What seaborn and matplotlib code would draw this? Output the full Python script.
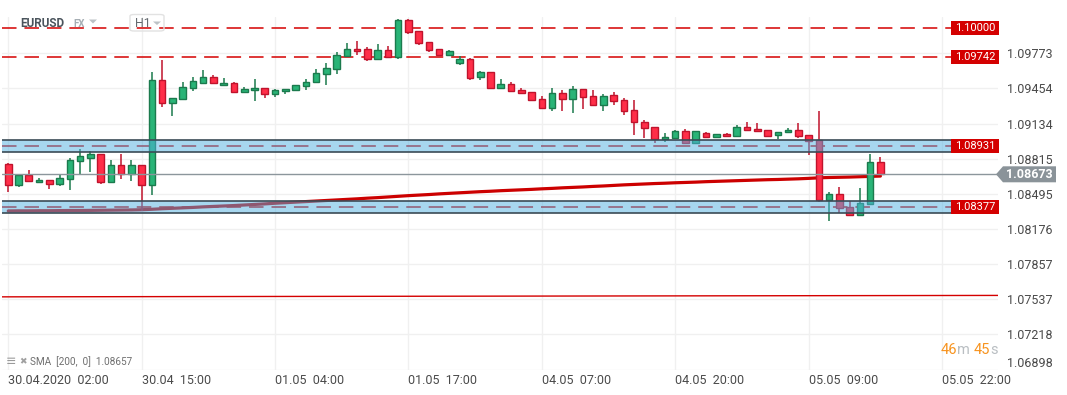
import numpy as np
import pandas as pd
import seaborn as sns
import matplotlib
matplotlib.use("Agg")
import matplotlib.pyplot as plt
from matplotlib.patches import Rectangle, Polygon, FancyBboxPatch
import matplotlib.transforms as mtransforms

# ---------------- data ----------------
opens = [1.08769, 1.08579, 1.08670, 1.08606, 1.08624, 1.08588, 1.08633, 1.08793, 1.08820, 1.08860,
         1.08602, 1.08754, 1.08675, 1.08760, 1.08579, 1.09532, 1.09323, 1.09356, 1.09459, 1.09504,
         1.09559, 1.09486, 1.09504, 1.09423, 1.09441, 1.09459, 1.09405, 1.09432, 1.09441, 1.09477,
         1.09513, 1.09586, 1.09631, 1.09749, 1.09813, 1.09813, 1.09722, 1.09804, 1.09740, 1.10076,
         1.09976, 1.09876, 1.09813, 1.09758, 1.09686, 1.09722, 1.09559, 1.09604, 1.09459, 1.09495,
         1.09441, 1.09423, 1.09359, 1.09278, 1.09414, 1.09359, 1.09450, 1.09386, 1.09305, 1.09396,
         1.09350, 1.09259, 1.09150, 1.09105, 1.08996, 1.09005, 1.09069, 1.08960, 1.09051, 1.09014,
         1.09042, 1.09024, 1.09105, 1.09087, 1.09078, 1.09033, 1.09060, 1.09078, 1.09033, 1.08987,
         1.08443, 1.08497, 1.08379, 1.08307, 1.08407, 1.08788]
highs = [1.08772, 1.08670, 1.08709, 1.08636, 1.08624, 1.08679, 1.08824, 1.08906, 1.08881, 1.08860,
         1.08806, 1.08854, 1.08799, 1.08760, 1.09607, 1.09713, 1.09368, 1.09516, 1.09562, 1.09625,
         1.09580, 1.09553, 1.09513, 1.09468, 1.09541, 1.09459, 1.09450, 1.09450, 1.09486, 1.09543,
         1.09634, 1.09686, 1.09788, 1.09867, 1.09886, 1.09831, 1.09861, 1.09840, 1.10085, 1.10085,
         1.09976, 1.09876, 1.09813, 1.09807, 1.09749, 1.09731, 1.09613, 1.09604, 1.09541, 1.09513,
         1.09459, 1.09423, 1.09386, 1.09459, 1.09441, 1.09477, 1.09450, 1.09441, 1.09405, 1.09423,
         1.09368, 1.09344, 1.09169, 1.09105, 1.09051, 1.09078, 1.09087, 1.09069, 1.09060, 1.09042,
         1.09051, 1.09123, 1.09150, 1.09141, 1.09078, 1.09060, 1.09096, 1.09141, 1.09033, 1.09250,
         1.08515, 1.08561, 1.08434, 1.08552, 1.08860, 1.08833]
lows = [1.08512, 1.08557, 1.08612, 1.08593, 1.08539, 1.08570, 1.08527, 1.08672, 1.08690, 1.08588,
        1.08602, 1.08627, 1.08609, 1.08337, 1.08488, 1.09283, 1.09201, 1.09347, 1.09432, 1.09504,
        1.09504, 1.09474, 1.09423, 1.09410, 1.09341, 1.09365, 1.09374, 1.09401, 1.09441, 1.09441,
        1.09513, 1.09486, 1.09586, 1.09740, 1.09758, 1.09704, 1.09713, 1.09740, 1.09722, 1.09949,
        1.09849, 1.09786, 1.09758, 1.09749, 1.09668, 1.09532, 1.09532, 1.09459, 1.09459, 1.09432,
        1.09405, 1.09350, 1.09265, 1.09247, 1.09247, 1.09229, 1.09265, 1.09305, 1.09247, 1.09305,
        1.09210, 1.09029, 1.09002, 1.08956, 1.08965, 1.09005, 1.08960, 1.08960, 1.09014, 1.09005,
        1.09024, 1.09024, 1.09078, 1.09069, 1.09014, 1.08993, 1.09047, 1.09005, 1.08851, 1.08425,
        1.08252, 1.08321, 1.08307, 1.08307, 1.08407, 1.08673]
closes = [1.08579, 1.08670, 1.08612, 1.08624, 1.08588, 1.08642, 1.08806, 1.08836, 1.08854, 1.08602,
          1.08754, 1.08675, 1.08760, 1.08579, 1.09532, 1.09323, 1.09368, 1.09468, 1.09523, 1.09559,
          1.09504, 1.09504, 1.09423, 1.09450, 1.09459, 1.09405, 1.09441, 1.09450, 1.09486, 1.09513,
          1.09595, 1.09640, 1.09758, 1.09813, 1.09795, 1.09722, 1.09804, 1.09740, 1.10076, 1.09967,
          1.09867, 1.09804, 1.09758, 1.09795, 1.09722, 1.09550, 1.09604, 1.09459, 1.09495, 1.09432,
          1.09414, 1.09350, 1.09278, 1.09414, 1.09359, 1.09450, 1.09377, 1.09305, 1.09386, 1.09341,
          1.09250, 1.09150, 1.09096, 1.08996, 1.09014, 1.09069, 1.08960, 1.09069, 1.09014, 1.09042,
          1.09024, 1.09105, 1.09078, 1.09069, 1.09024, 1.09060, 1.09078, 1.09024, 1.08978, 1.08443,
          1.08497, 1.08370, 1.08307, 1.08416, 1.08788, 1.08673]
sma_values = [1.08340, 1.08341, 1.08341, 1.08342, 1.08342, 1.08343, 1.08344, 1.08344, 1.08345, 1.08346,
              1.08347, 1.08348, 1.08349, 1.08351, 1.08355, 1.08360, 1.08364, 1.08368, 1.08372, 1.08377,
              1.08381, 1.08385, 1.08389, 1.08394, 1.08399, 1.08404, 1.08410, 1.08415, 1.08420, 1.08425,
              1.08430, 1.08435, 1.08440, 1.08445, 1.08450, 1.08456, 1.08461, 1.08467, 1.08473, 1.08479,
              1.08484, 1.08489, 1.08495, 1.08500, 1.08505, 1.08510, 1.08515, 1.08519, 1.08524, 1.08528,
              1.08532, 1.08536, 1.08541, 1.08545, 1.08550, 1.08554, 1.08558, 1.08563, 1.08567, 1.08572,
              1.08577, 1.08581, 1.08585, 1.08589, 1.08592, 1.08596, 1.08599, 1.08602, 1.08606, 1.08609,
              1.08612, 1.08615, 1.08618, 1.08621, 1.08624, 1.08626, 1.08629, 1.08632, 1.08636, 1.08641,
              1.08644, 1.08646, 1.08648, 1.08651, 1.08654, 1.08657]
time_labels = ["30.04.2020  02:00", "30.04  15:00", "01.05  04:00", "01.05  17:00",
               "04.05  07:00", "04.05  20:00", "05.05  09:00", "05.05  22:00"]
time_label_candles = [0, 13, 26, 39, 52, 65, 78, 91]
price_ticks = [1.06898, 1.07218, 1.07537, 1.07857, 1.08176, 1.08495, 1.08815, 1.09134, 1.09454, 1.09773]
resistance_levels = [1.10000, 1.09742]
zone_levels = [1.08931, 1.08377]
zone_half_width = 0.00053
trend_line_ends = [1.07559, 1.07572]
current_price = 1.08673
symbol = "EURUSD"
market = "FX"
interval = "H1"
sma_label = "SMA  [200,  0]  1.08657"
timer_parts = ["46", "m", "45", "s"]

df = pd.DataFrame({"i": np.arange(len(opens)), "open": opens, "high": highs,
                   "low": lows, "close": closes, "sma": sma_values})
df["up"] = df["close"] >= df["open"]

# ---------------- style ----------------
sns.set_theme(style="white")
plt.rcParams["font.family"] = ["Roboto", "DejaVu Sans"]

W, H = 1067, 395
fig = plt.figure(figsize=(W / 100, H / 100), dpi=100)
ax_left, ax_right, ax_top, ax_bot = 2, 998, 17, 370
ax = fig.add_axes([ax_left / W, 1 - ax_bot / H, (ax_right - ax_left) / W, (ax_bot - ax_top) / H])

XMIN, XMAX = -0.61, 96.46
YMIN, YMAX = 1.06894, 1.10103
ax.set_xlim(XMIN, XMAX)
ax.set_ylim(YMIN, YMAX)
ppx = (YMAX - YMIN) / (ax_bot - ax_top)      # price per pixel
cpx = (XMAX - XMIN) / (ax_right - ax_left)   # candle units per pixel

for s in ax.spines.values():
    s.set_visible(False)

ax.grid(True, color="#f0f0f0", lw=1)
ax.set_axisbelow(True)

GREEN_FILL, GREEN_EDGE = "#29b477", "#1b7a4d"
RED_FILL, RED_EDGE = "#ff2e48", "#c0132c"
LINE_RED = "#d40000"

# dashed resistance/zone lines (under candles)
band_end = 91.9
for lvl in resistance_levels + zone_levels:
    ax.hlines(lvl, XMIN, band_end, colors=LINE_RED, lw=1.1,
              linestyles=(0, (9.5, 5.2)), zorder=1)

# trend line near 1.0757
ax.plot([XMIN, XMAX], trend_line_ends, color=LINE_RED, lw=1.0, zorder=1)

# SMA line
sns.lineplot(data=df, x="i", y="sma", ax=ax, color="#cc0000", lw=2.3, zorder=1.5)

# candles
wick_cols = np.where(df["up"], GREEN_EDGE, RED_EDGE)
ax.vlines(df["i"], df["low"], df["high"], colors=wick_cols, lw=1.1, zorder=2)
body_bottom = np.minimum(df["open"], df["close"])
body_height = np.maximum(np.abs(df["close"] - df["open"]), 0.00003)
ax.bar(df["i"], body_height, bottom=body_bottom, width=0.64,
       color=np.where(df["up"], GREEN_FILL, RED_FILL),
       edgecolor=np.where(df["up"], GREEN_EDGE, RED_EDGE), linewidth=1.0, zorder=3)

# current price line
ax.axhline(current_price, color="#8c969c", lw=1.0, zorder=3.5)

# support / resistance zones (left edge runs off the plot)
for lvl in zone_levels:
    ax.add_patch(Rectangle((XMIN - 1.0, lvl - zone_half_width), band_end + 1.05 - XMIN,
                           2 * zone_half_width,
                           facecolor=(81 / 255, 177 / 255, 225 / 255, 0.5),
                           edgecolor="#3b4b56", lw=1.2, zorder=4, clip_on=True))

# red level labels
box_h = 7 * ppx
for lvl in resistance_levels + zone_levels:
    ax.add_patch(Rectangle((band_end, lvl - box_h), 48 * cpx, 2 * box_h, facecolor=LINE_RED,
                           edgecolor="none", zorder=6, clip_on=False))
    ax.text(band_end + 24 * cpx, lvl, f"{lvl:.5f}", color="white", fontsize=8,
            ha="center", va="center", zorder=7, clip_on=False)

# axes ticks
ax.yaxis.tick_right()
ax.set_yticks(price_ticks)
ax.set_yticklabels([f"{v:.5f}" for v in price_ticks])
ax.tick_params(axis="y", length=0, pad=6.5, labelsize=9, labelcolor="#4a4a4a")
ylabs = ax.get_yticklabels()
ylabs[0].set_verticalalignment("bottom")

ax.set_xticks(time_label_candles)
ax.set_xticklabels(time_labels)
ax.tick_params(axis="x", length=0, pad=3, labelsize=9, labelcolor="#4a4a4a")
for lab in ax.get_xticklabels():
    lab.set_horizontalalignment("left")
ax.set_xlabel("")
ax.set_ylabel("")

# current price tag
trans = mtransforms.blended_transform_factory(ax.transAxes, ax.transData)
def axfrac(px):
    return (px - ax_left) / (ax_right - ax_left)
tag_h = 8 * ppx
tag = Polygon([(axfrac(996), current_price), (axfrac(1003), current_price + tag_h),
               (axfrac(1056), current_price + tag_h), (axfrac(1056), current_price - tag_h),
               (axfrac(1003), current_price - tag_h)], closed=True, transform=trans,
              facecolor="#8a9399", edgecolor="none", clip_on=False, zorder=6)
ax.add_patch(tag)
ax.text(axfrac(1029.5), current_price, f"{current_price:.5f}", transform=trans, color="white",
        fontsize=9, fontweight="bold", ha="center", va="center", clip_on=False, zorder=7)

# header
def fx(px):
    return px / W
def fy(py):
    return 1 - py / H
fig.text(fx(20), fy(23.5), symbol, fontsize=8.5, fontweight="bold", color="#4a545c",
         ha="left", va="center")
fig.text(fx(73), fy(24), market, fontsize=7, fontweight="bold", color="#a6aeb4",
         ha="left", va="center")
fig.patches.append(Polygon([(fx(89), fy(19.5)), (fx(97), fy(19.5)), (fx(93), fy(23.5))],
                           closed=True, transform=fig.transFigure, facecolor="#bcc2c6",
                           edgecolor="none"))
fig.patches.append(FancyBboxPatch((fx(130), fy(31)), fx(34), 16.5 / H,
                                  boxstyle="round,pad=0,rounding_size=0.004",
                                  transform=fig.transFigure, facecolor="none",
                                  edgecolor="#e2e2e2", lw=1))
fig.text(fx(134.5), fy(23.5), interval, fontsize=9, color="#666b70", ha="left", va="center")
fig.patches.append(Polygon([(fx(153), fy(21.5)), (fx(161), fy(21.5)), (fx(157), fy(25)),],
                           closed=True, transform=fig.transFigure, facecolor="#bcc2c6",
                           edgecolor="none"))

# SMA legend bottom-left
fig.text(fx(5.5), fy(361.5), "≡", fontsize=9, color="#9a9a9a", ha="left", va="center",
         family=["DejaVu Sans"])
fig.text(fx(19.5), fy(361.5), "✖", fontsize=6.5, color="#a0a0a0", ha="left", va="center",
         family=["DejaVu Sans"])
fig.text(fx(30.5), fy(362), sma_label, fontsize=7.2, color="#6f6f6f", ha="left", va="center")

# countdown timer
timer_x = [941, 956.7, 974, 990.7]
for k, part in enumerate(timer_parts):
    col = "#f7931e" if k % 2 == 0 else "#b9bec2"
    fig.text(fx(timer_x[k]), fy(350.5), part, fontsize=10.5, color=col, ha="left", va="center")

fig.savefig("out.png", dpi=100)
